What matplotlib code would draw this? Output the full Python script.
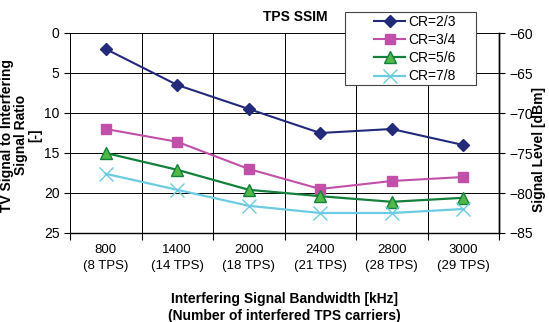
import numpy as np
import matplotlib
matplotlib.use("Agg")
import matplotlib.pyplot as plt
from matplotlib.patches import Rectangle

plt.rcParams["font.family"] = ["Liberation Sans", "DejaVu Sans"]

# ── Data ────────────────────────────────────────────────────────────────────
categories = ["800\n(8 TPS)", "1400\n(14 TPS)", "2000\n(18 TPS)",
              "2400\n(21 TPS)", "2800\n(28 TPS)", "3000\n(29 TPS)"]
cr_23 = [2.0, 6.5, 9.5, 12.5, 12.0, 14.0]
cr_34 = [12.0, 13.6, 17.0, 19.5, 18.5, 18.0]
cr_56 = [15.0, 17.1, 19.6, 20.4, 21.1, 20.6]
cr_78 = [17.6, 19.6, 21.6, 22.5, 22.5, 22.0]

left_ticks = [0, 5, 10, 15, 20, 25]
right_ticks = [-60, -65, -70, -75, -80, -85]

W, H = 549, 322
fig = plt.figure(figsize=(W / 100, H / 100), dpi=100)
ax = fig.add_axes([70 / W, 1 - 233 / H, 429 / W, 200 / H])

x = np.arange(len(categories))
ax.plot(x, cr_23, color="#232a7a", lw=1.5, marker="D", ms=6.5,
        mfc="#232a7a", mec="#232a7a", label="CR=2/3", zorder=5)
ax.plot(x, cr_34, color="#c050a8", lw=1.5, marker="s", ms=7,
        mfc="#c050a8", mec="#c050a8", label="CR=3/4", zorder=5)
ax.plot(x, cr_56, color="#13803c", lw=1.6, marker="^", ms=8,
        mfc="#52b848", mec="#13803c", label="CR=5/6", zorder=5)
ax.plot(x, cr_78, color="#6ccbe0", lw=1.6, marker="x", ms=10, mew=1.0,
        mfc="#6ccbe0", mec="#6ccbe0", label="CR=7/8", zorder=5)

ax.set_xlim(-0.5, len(categories) - 0.5)
ax.set_ylim(25, 0)
ax.set_yticks(left_ticks)
ax.set_xticks(x)
ax.set_xticklabels(categories, fontsize=9.5, linespacing=1.45)
ax.set_xticks(np.arange(-0.5, len(categories)), minor=True)
ax.tick_params(axis="x", which="major", length=0, pad=8)
ax.tick_params(axis="x", which="minor", length=5, width=0.8, direction="out")
ax.tick_params(axis="y", labelsize=10, length=4, width=0.8, direction="out")
ax.grid(True, which="minor", axis="x", color="black", lw=0.7)
ax.grid(True, which="major", axis="y", color="black", lw=0.7)
for s in ["top", "left"]:
    ax.spines[s].set_visible(False)
ax.spines["bottom"].set_linewidth(1.0)
ax.spines["right"].set_linewidth(1.0)

ax.set_xlabel("Interfering Signal Bandwidth [kHz]\n(Number of interfered TPS carriers)",
              fontsize=10, fontweight="bold", labelpad=14, linespacing=1.35)

# left axis title, three centred lines
fig.text(21 / W, 1 - 135 / H, "TV Signal to Interfering\nSignal Ratio\n[-]",
         rotation=90, ha="center", va="center", multialignment="center",
         fontsize=10, fontweight="bold", linespacing=1.0)

ax2 = ax.twinx()
ax2.set_ylim(-85, -60)
ax2.set_yticks(right_ticks)
ax2.tick_params(axis="y", labelsize=10, length=4, width=0.8, direction="out")
for s in ["top", "left", "bottom"]:
    ax2.spines[s].set_visible(False)
ax2.spines["right"].set_linewidth(1.0)
fig.text(539 / W, 1 - 150 / H, "Signal Level [dBm]", rotation=90,
         ha="center", va="center", fontsize=10, fontweight="bold")

fig.text(295 / W, 1 - 17 / H, "TPS SSIM", fontsize=10, fontweight="bold",
         ha="center", va="center")

# legend box drawn by hand (wide padding like the original)
box = Rectangle((345 / W, 1 - 85 / H), 131 / W, 73 / H, transform=fig.transFigure,
                facecolor="white", edgecolor="#444444", lw=0.8, zorder=19)
fig.add_artist(box)
handles, labels = ax.get_legend_handles_labels()
leg = fig.legend(handles, labels, loc="upper left",
                 bbox_to_anchor=(374 / W, 1 - 15 / H),
                 fontsize=10, frameon=False,
                 handlelength=2.25, handletextpad=0.2, labelspacing=0.3,
                 borderpad=0, borderaxespad=0)
leg.set_zorder(20)
ax.set_zorder(ax2.get_zorder() + 1)
ax.patch.set_visible(False)

fig.savefig("out.png", dpi=100)
